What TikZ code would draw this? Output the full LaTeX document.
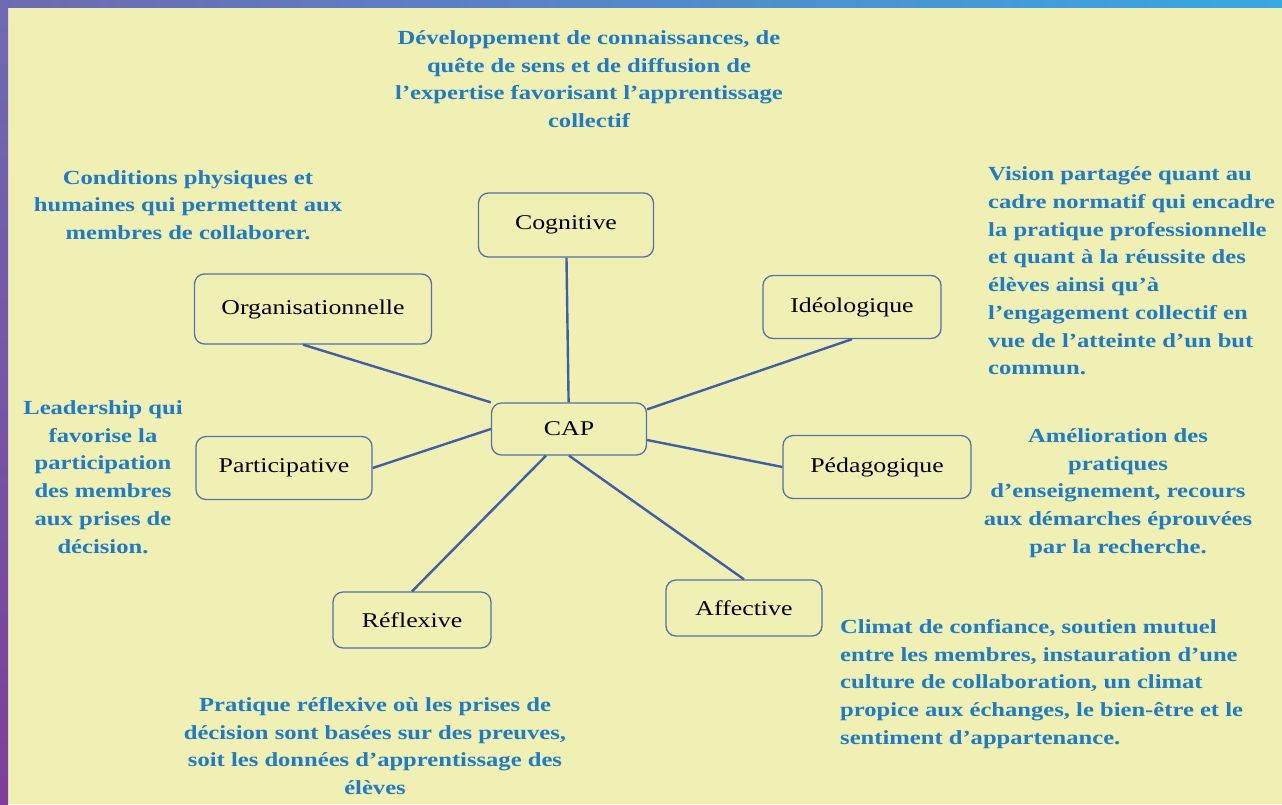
\documentclass[tikz,border=0pt]{standalone}
\usepackage{fontspec}
\setmainfont[FakeStretch=1.23]{Liberation Serif}
\definecolor{fond}{HTML}{F0F0B4}
\definecolor{texte}{HTML}{1E7BC4}
\definecolor{trait}{HTML}{3F5FA6}
\definecolor{bord}{HTML}{5273A8}
\definecolor{violethaut}{HTML}{6E6AB2}
\definecolor{violetbas}{HTML}{7E3E9A}
\definecolor{bleudroit}{HTML}{38A8E0}
\begin{document}
\begin{tikzpicture}[x=1pt,y=-1pt,
dim/.style={draw=bord,line width=1.3pt,rounded corners=10pt,fill=fond,text=black,font=\fontsize{21}{25}\selectfont},
note/.style={text=texte,font=\fontsize{20}{27.7}\selectfont\bfseries,align=center,inner sep=0pt},
lien/.style={draw=trait,line width=2.4pt}]
\useasboundingbox(0,0)rectangle(1282,804);
\fill[fond](0,0)rectangle(1282,804);
\shade[top color=violethaut,bottom color=violetbas](0,0)rectangle(8,804);
\shade[left color=violethaut,right color=bleudroit](0,0)rectangle(1282,7);
\node[dim,minimum width=155pt,minimum height=52pt](cap)at(569,429){CAP};
\node[dim,minimum width=175pt,minimum height=64pt](cog)at(566,225){Cognitive};
\node[dim,minimum width=237pt,minimum height=70pt](org)at(313,309){Organisationnelle};
\node[dim,minimum width=176pt,minimum height=63pt](part)at(284,468){Participative};
\node[dim,minimum width=178pt,minimum height=63pt](ideo)at(852,307){Idéologique};
\node[dim,minimum width=188pt,minimum height=63pt](peda)at(877,467){Pédagogique};
\node[dim,minimum width=156pt,minimum height=56pt](affe)at(744,608){Affective};
\node[dim,minimum width=158pt,minimum height=56pt](refl)at(412,620){Réflexive};
\draw[lien](cog)--(cap);
\draw[lien]([xshift=-10pt]org.south)--(cap.north west);
\draw[lien](part.east)--(cap.west);
\draw[lien](ideo.south)--([yshift=-7pt]cap.north east);
\draw[lien]([yshift=-11pt]cap.east)--(peda.west);
\draw[lien](cap.south)--(affe.north);
\draw[lien]([xshift=-23pt]cap.south)--(refl.north);
\node[note](n-cog)at(589,79){Développement de connaissances, de\\quête de sens et de diffusion de\\l’expertise favorisant l’apprentissage\\collectif};
\node[note](n-org)at(188,205){Conditions physiques et\\humaines qui permettent aux\\membres de collaborer.};
\node[note,align=left,anchor=west](n-ideo)at(988,271){Vision partagée quant au\\cadre normatif qui encadre\\la pratique professionnelle\\et quant à la réussite des\\élèves ainsi qu’à\\l’engagement collectif en\\vue de l’atteinte d’un but\\commun.};
\node[note](n-part)at(103,477){Leadership qui\\favorise la\\participation\\des membres\\aux prises de\\décision.};
\node[note](n-peda)at(1118,493){Amélioration des\\pratiques\\d’enseignement, recours\\aux démarches éprouvées\\par la recherche.};
\node[note,align=left,anchor=west](n-affe)at(840,684){Climat de confiance, soutien mutuel\\entre les membres, instauration d’une\\culture de collaboration, un climat\\propice aux échanges, le bien-être et le\\sentiment d’appartenance.};
\node[note](n-refl)at(375,746){Pratique réflexive où les prises de\\décision sont basées sur des preuves,\\soit les données d’apprentissage des\\élèves};
\end{tikzpicture}
\end{document}
